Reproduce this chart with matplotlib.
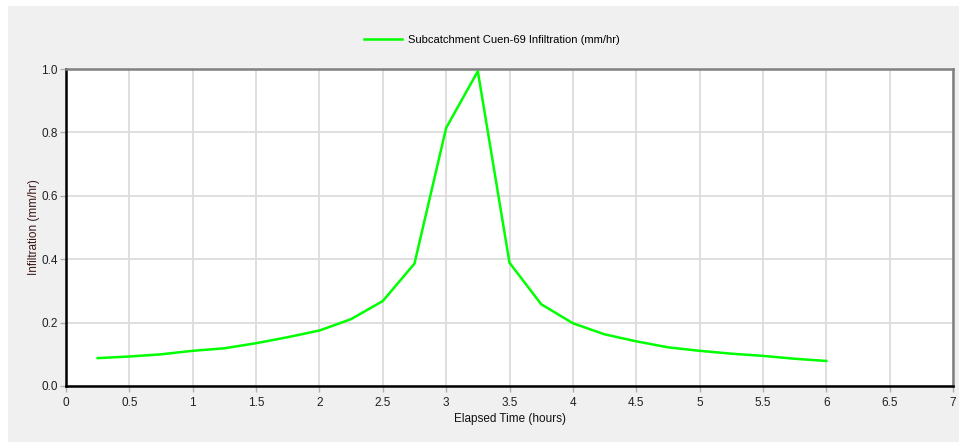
import numpy as np
import matplotlib.pyplot as plt
from matplotlib.patches import Rectangle

# elapsed time (hours) and infiltration rate (mm/hr)
hours = [0.25, 0.5, 0.75, 1.0, 1.25, 1.5, 1.75, 2.0, 2.25, 2.5, 2.75, 3.0,
         3.25, 3.5, 3.75, 4.0, 4.25, 4.5, 4.75, 5.0, 5.25, 5.5, 5.75, 6.0]
infil = [0.088, 0.093, 0.100, 0.111, 0.119, 0.135, 0.154, 0.175, 0.211, 0.268,
         0.386, 0.814, 0.993, 0.389, 0.258, 0.198, 0.163, 0.141, 0.122, 0.111,
         0.102, 0.095, 0.086, 0.079]

xticks = [0, 0.5, 1, 1.5, 2, 2.5, 3, 3.5, 4, 4.5, 5, 5.5, 6, 6.5, 7]
xlabels = ['0', '0.5', '1', '1.5', '2', '2.5', '3', '3.5', '4', '4.5', '5', '5.5', '6', '6.5', '7']
yticks = [0.0, 0.2, 0.4, 0.6, 0.8, 1.0]

plt.rcParams['font.family'] = ['Liberation Sans', 'DejaVu Sans']

W, H = 959, 443
fig = plt.figure(figsize=(W / 100, H / 100), dpi=100)
fig.patch.set_facecolor('white')
# grey panel behind the chart
fig.patches.append(Rectangle((8 / W, 1 - 442 / H), (W - 8) / W, (442 - 6) / H,
                             transform=fig.transFigure, facecolor='#f0f0f0',
                             edgecolor='none', zorder=-10))

ax = fig.add_axes([66 / W, 1 - 386 / H, (953 - 66) / W, (386 - 69) / H])
ax.set_facecolor('white')

ax.plot(hours, infil, color='#00ff00', lw=1.8, label='Subcatchment Cuen-69 Infiltration (mm/hr)',
        zorder=3)

ax.set_xlim(0, 7)
ax.set_ylim(0, 1.0)
ax.set_xticks(xticks)
ax.set_xticklabels(xlabels)
ax.set_yticks(yticks)
ax.set_yticklabels(['%.1f' % v for v in yticks])
ax.grid(True, color='#dcdcdc', lw=1.3)
ax.set_axisbelow(True)

ax.tick_params(axis='both', direction='out', length=4, width=1, color='#b0b0b0',
               labelsize=8.5, labelcolor='#202020')
ax.tick_params(axis='x', pad=4)
ax.tick_params(axis='y', pad=2)

ax.spines['left'].set_color('black')
ax.spines['left'].set_linewidth(1.8)
ax.spines['bottom'].set_color('black')
ax.spines['bottom'].set_linewidth(1.8)
ax.spines['top'].set_color('#808080')
ax.spines['top'].set_linewidth(1.8)
ax.spines['right'].set_color('#808080')
ax.spines['right'].set_linewidth(1.8)

ax.set_xlabel('Elapsed Time (hours)', fontsize=8.5, color='#111111', labelpad=3)
ax.set_ylabel('Infiltration (mm/hr)', fontsize=8.5, color='#3a1818', labelpad=1)

leg = fig.legend(loc='center', bbox_to_anchor=(492 / W, 1 - 40 / H), frameon=False,
                 fontsize=8, handlelength=3.4, handletextpad=0.6)

fig.savefig('out.png', dpi=100, facecolor=fig.get_facecolor())
